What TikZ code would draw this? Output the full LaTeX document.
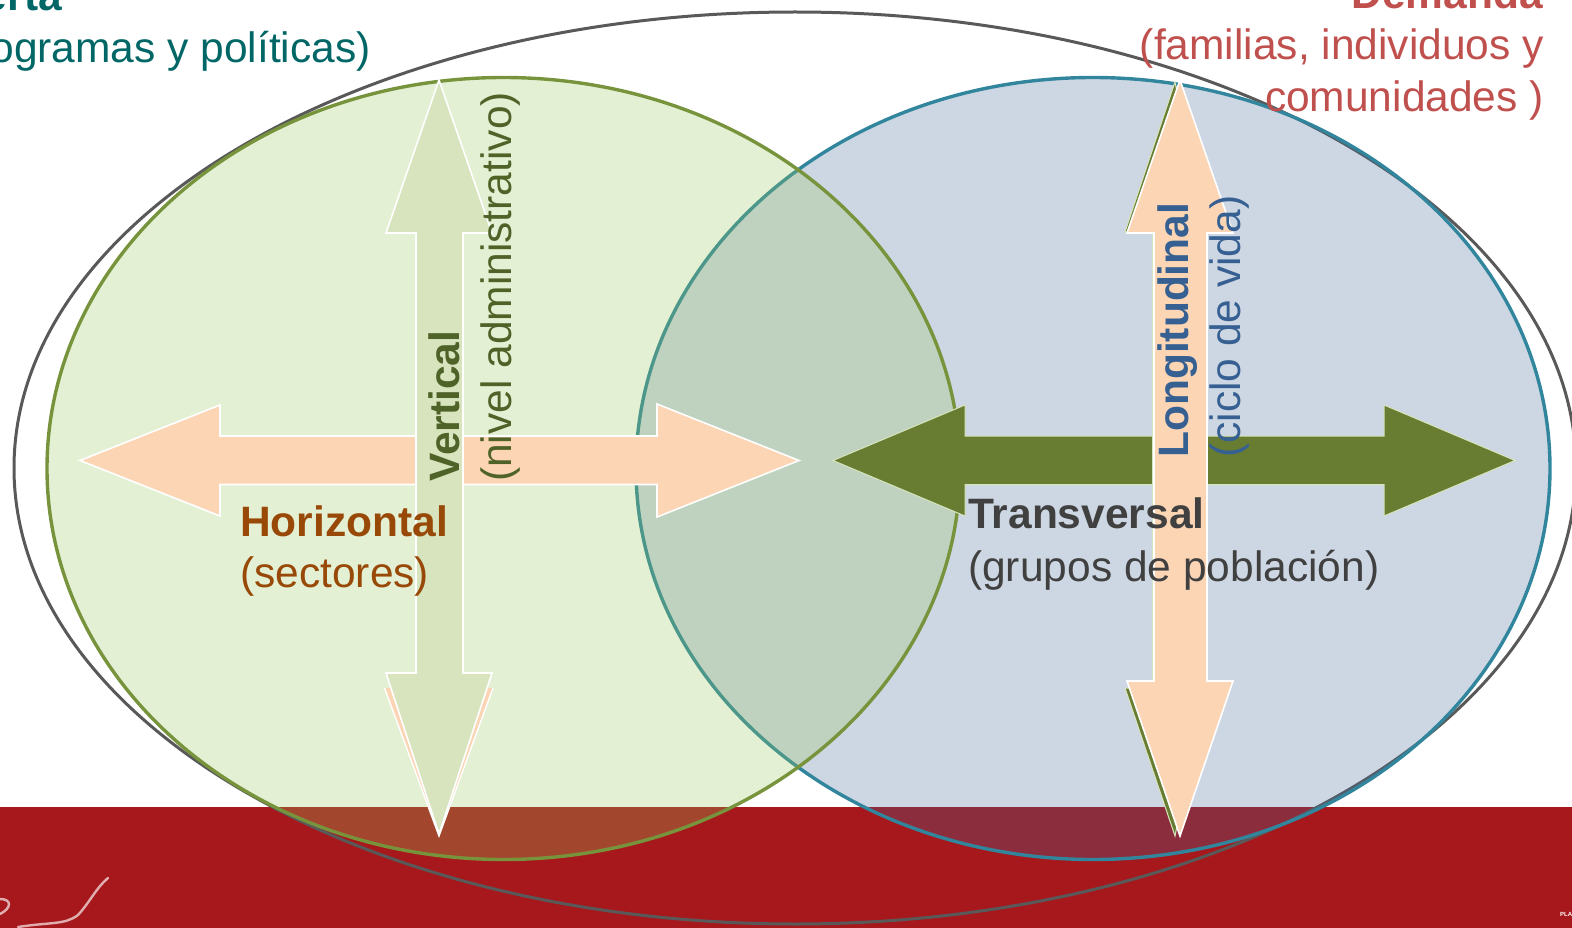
\documentclass[tikz,border=0pt]{standalone}
\usepackage{fontspec}
\setmainfont{Liberation Sans}
\definecolor{barred}{HTML}{A6181C}
\definecolor{greenfill}{HTML}{98C85C}
\definecolor{bluefill}{HTML}{466898}
\definecolor{greenline}{HTML}{77933C}
\definecolor{blueline}{HTML}{31859C}
\definecolor{grayline}{HTML}{595959}
\definecolor{peach}{HTML}{FCD5B5}
\definecolor{darkolive}{HTML}{687C32}
\definecolor{palegreen}{HTML}{D7E4BD}
\definecolor{tealtext}{HTML}{006666}
\definecolor{redtext}{HTML}{C0504D}
\definecolor{browntext}{HTML}{984807}
\definecolor{olivetext}{HTML}{4F6228}
\definecolor{bluetext}{HTML}{366092}
\definecolor{graytext}{HTML}{404040}
\tikzset{
  lbl/.style={inner sep=0pt,font=\fontsize{42.5}{51}\selectfont,align=left},
  lblb/.style={inner sep=0pt,font=\bfseries\fontsize{42.5}{51}\selectfont,align=left},
  arrowshape/.style={draw=white,line width=1.6pt,line join=miter},
  oliveshape/.style={draw=palegreen,line width=1pt,fill=darkolive,line join=miter},
  circ/.style={line width=3.4pt,fill opacity=0.27},
  squiggle/.style={white!65!barred,line width=2.4pt,line cap=round}
}
\begin{document}
\begin{tikzpicture}[x=1pt,y=-1pt]
\useasboundingbox (0,0) rectangle (1572,928);
\fill[barred] (0,807) rectangle (1572,928);
% logo squiggle
\draw[squiggle] (0,899) .. controls (12,899) and (12,908) .. (0,914);
\draw[squiggle] (18,927) .. controls (50,922) and (65,925) .. (78,915) .. controls (90,902) and (96,888) .. (108,878);
\node[inner sep=0pt,text=white,font=\bfseries\fontsize{6}{7}\selectfont,anchor=west] (logo) at (1560,914) {PLA};
% ellipses
\draw[grayline,line width=3pt] (795,468) ellipse [x radius=781,y radius=456];
\draw[circ,draw=blueline,fill=bluefill] (1093,468.5) ellipse [x radius=457,y radius=391];
\draw[circ,draw=greenline,fill=greenfill] (503.5,468.5) ellipse [x radius=456.5,y radius=391];
% left cross
\fill[peach] (384.5,688) -- (493,688) -- (439,836) -- cycle;
\draw[white,line width=1.4pt] (384.5,688) -- (439,836) -- (493,688);
\draw[arrowshape,fill=peach] (80,460.5) -- (220,405) -- (220,436) -- (657,436) -- (657,404) -- (799,460.5) -- (657,517) -- (657,484.5) -- (220,484.5) -- (220,516) -- cycle;
\draw[arrowshape,fill=palegreen] (439,80) -- (492,233) -- (463,233) -- (463,673) -- (492,673) -- (439,834) -- (386,673) -- (416,673) -- (416,233) -- (386,233) -- cycle;
% right cross
\draw[oliveshape] (833,460.5) -- (965,405) -- (965,436) -- (1384,436) -- (1384,405) -- (1515,460.5) -- (1384,516) -- (1384,484.5) -- (965,484.5) -- (965,516) -- cycle;
\draw[oliveshape] (1175,82) -- (1125,232) -- (1152.5,232) -- (1152.5,688) -- (1125,688) -- (1175,836) -- (1205,688) -- (1205,232) -- cycle;
\draw[arrowshape,fill=peach] (1180,80) -- (1233,233) -- (1207,233) -- (1207,681) -- (1233,681) -- (1180,836) -- (1127,681) -- (1154,681) -- (1154,233) -- (1127,233) -- cycle;
% texts
\node[lblb,anchor=base east,text=tealtext] (oferta) at (62,11) {Oferta};
\node[lbl,anchor=base east,text=tealtext] (ofertasub) at (371,63) {(programas y políticas)};
\node[lblb,anchor=base east,text=redtext] (demanda) at (1543,9) {Demanda};
\node[lbl,anchor=base east,text=redtext] (demsub1) at (1544,60) {(familias, individuos y};
\node[lbl,anchor=base east,text=redtext] (demsub2) at (1544,112) {comunidades )};
\node[lblb,anchor=base west,text=browntext] (hor) at (240,536) {Horizontal};
\node[lbl,anchor=base west,text=browntext] (horsub) at (240,587) {(sectores)};
\node[lblb,anchor=base west,text=graytext] (tra) at (968,528) {Transversal};
\node[lbl,anchor=base west,text=graytext] (trasub) at (968,581) {(grupos de población)};
\node[lblb,anchor=base west,rotate=90,text=olivetext] (ver) at (459.5,482) {Vertical};
\node[lbl,anchor=base west,rotate=90,text=olivetext] (versub) at (511,482) {(nivel administrativo)};
\node[lblb,anchor=base west,rotate=90,text=bluetext] (lon) at (1188,458) {Longitudinal};
\node[lbl,anchor=base west,rotate=90,text=bluetext] (lonsub) at (1240,458) {(ciclo de vida)};
\end{tikzpicture}
\end{document}
